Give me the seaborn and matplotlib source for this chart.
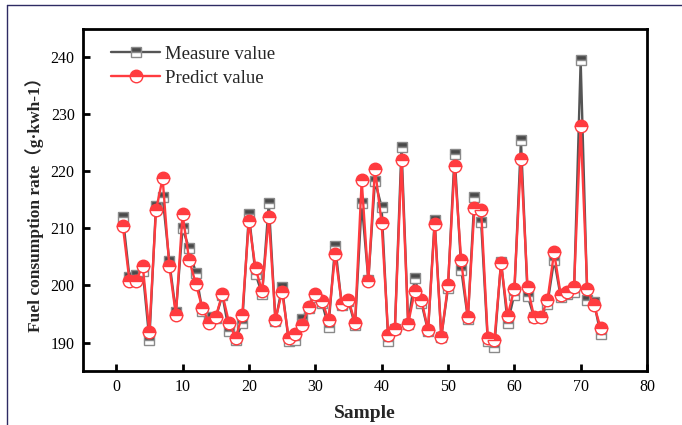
import numpy as np
import pandas as pd
import seaborn as sns

import matplotlib

matplotlib.use("Agg")
import matplotlib.pyplot as plt
from matplotlib.lines import Line2D

# sample index and values
samples = list(range(1, 74))
measure = [
    212.0, 201.5, 201.8, 202.5, 190.5, 214.0, 215.5, 204.3, 195.3, 210.0,
    206.5, 202.2, 195.5, 194.5, 194.3, 198.3, 192.0, 190.5, 193.5, 212.5,
    202.0, 198.5, 214.5, 193.8, 199.7, 190.2, 190.5, 194.2, 196.0, 198.0,
    197.0, 192.8, 207.0, 196.5, 197.3, 193.0, 214.5, 201.0, 218.3, 213.8,
    190.2, 192.3, 224.3, 193.3, 201.3, 197.0, 192.0, 211.5, 191.0, 199.5,
    223.0, 202.8, 194.2, 215.6, 211.1, 190.2, 189.3, 204.2, 193.4, 198.4,
    225.5, 198.2, 194.4, 194.4, 196.8, 204.5, 198.0, 198.5, 198.8, 239.5,
    197.4, 197.1, 191.5,
]
predict = [
    210.5, 200.8, 200.8, 203.5, 191.8, 213.2, 218.8, 203.5, 194.8, 212.5,
    204.5, 200.3, 196.0, 193.5, 194.5, 198.5, 193.5, 190.8, 194.8, 211.3,
    203.0, 199.0, 212.0, 194.0, 198.9, 190.8, 191.5, 193.0, 196.2, 198.5,
    197.3, 194.0, 205.5, 196.8, 197.5, 193.5, 218.5, 200.8, 220.5, 211.0,
    191.3, 192.3, 222.0, 193.3, 199.0, 197.5, 192.2, 210.8, 191.0, 200.0,
    221.0, 204.4, 194.4, 213.6, 213.3, 190.8, 190.4, 203.9, 194.7, 199.4,
    222.2, 199.7, 194.4, 194.4, 197.5, 205.8, 198.3, 198.8, 199.8, 227.9,
    199.3, 196.6, 192.6,
]
series_names = ["Measure value", "Predict value"]
x_ticks = [0, 10, 20, 30, 40, 50, 60, 70, 80]
y_ticks = [190, 200, 210, 220, 230, 240]

df = pd.DataFrame({"Sample": samples, "Measure": measure, "Predict": predict})

sns.set_theme(style="ticks")
plt.rcParams["font.family"] = ["Liberation Serif", "Noto Sans CJK SC"]
plt.rcParams["axes.linewidth"] = 2.0

fig = plt.figure(figsize=(6.82, 4.25), dpi=100)
ax = fig.add_axes([0.1217, 0.127, 0.827, 0.805])

gray = "#555555"
red = "#ff3b3f"

sns.lineplot(
    data=df, x="Sample", y="Measure", ax=ax, color=gray, linewidth=1.7,
    marker="s", markersize=7.5, fillstyle="top", markerfacecolor="#4a4a4a",
    markerfacecoloralt="white", markeredgecolor="#8a8a8a", markeredgewidth=1.0,
)
sns.lineplot(
    data=df, x="Sample", y="Predict", ax=ax, color=red, linewidth=1.7,
    marker="o", markersize=9, fillstyle="top", markerfacecolor=red,
    markerfacecoloralt="white", markeredgecolor=red, markeredgewidth=1.0,
)

ax.set_xlim(-5, 80)
ax.set_ylim(185, 245)
ax.set_xticks(x_ticks)
ax.set_yticks(y_ticks)
ax.tick_params(direction="in", length=5, width=2, labelsize=11.5, pad=6, colors="black")
for side in ["top", "right"]:
    ax.spines[side].set_visible(True)
for spine in ax.spines.values():
    spine.set_color("black")
    spine.set_linewidth(2.0)

ax.set_xlabel("Sample", fontsize=14, fontweight="bold", labelpad=7)
ax.set_ylabel("Fuel consumption rate（g·kwh-1）", fontsize=12.5, fontweight="bold", labelpad=5)

handles = [
    Line2D([], [], color=gray, linewidth=1.7, marker="s", markersize=7.5,
           fillstyle="top", markerfacecolor="#4a4a4a", markerfacecoloralt="white",
           markeredgecolor="#8a8a8a", markeredgewidth=1.0),
    Line2D([], [], color=red, linewidth=1.7, marker="o", markersize=9,
           fillstyle="top", markerfacecolor=red, markerfacecoloralt="white",
           markeredgecolor=red, markeredgewidth=1.0),
]
ax.legend(handles, series_names, loc="upper left", bbox_to_anchor=(0.02, 1.0),
          frameon=False, fontsize=13.5, handlelength=2.6, handletextpad=0.25,
          labelspacing=0.35)

# thin outer frame seen at the top and left of the picture
frame_color = "#2e2b63"
fig.add_artist(Line2D([7 / 682, 7 / 682], [0, 1 - 5 / 425], color=frame_color, linewidth=1.0))
fig.add_artist(Line2D([7 / 682, 1], [1 - 5 / 425, 1 - 5 / 425], color=frame_color, linewidth=1.0))

fig.savefig("out.png", dpi=100)
